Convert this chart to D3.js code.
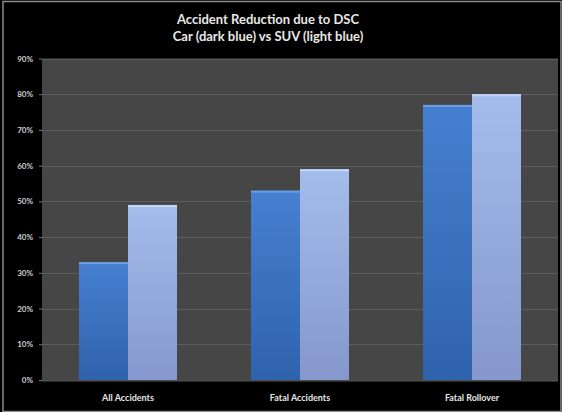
<!DOCTYPE html>
<html>
<head>
<meta charset="utf-8">
<script src="https://cdn.jsdelivr.net/npm/d3@7"></script>
<style>
  html, body { margin: 0; padding: 0; background: #000; }
  svg { display: block; }
</style>
</head>
<body>
<svg id="chart" width="562" height="412"></svg>
<script>
// Accident reduction (%) attributed to DSC, by accident type
const categories = ["All Accidents", "Fatal Accidents", "Fatal Rollover"];
const seriesNames = ["Car", "SUV"];
const carValues = [33, 53, 77];
const suvValues = [49, 59, 80];
const yTicks = [0, 10, 20, 30, 40, 50, 60, 70, 80, 90];
const titleLines = ["Accident Reduction due to DSC", "Car (dark blue) vs SUV (light blue)"];

const W = 562, H = 412;
const plot = { left: 42, right: 558, top: 58.5, bottom: 380 };
const svg = d3.select("#chart");

const defs = svg.append("defs");
function barGradient(id, top, bottom) {
  const g = defs.append("linearGradient").attr("id", id)
    .attr("x1", 0).attr("y1", 0).attr("x2", 0).attr("y2", 1);
  g.append("stop").attr("offset", "0%").attr("stop-color", top);
  g.append("stop").attr("offset", "100%").attr("stop-color", bottom);
}
barGradient("gCar", "#4680d0", "#2f62ad");
barGradient("gSuv", "#a4bdec", "#8597cc");

// outer frame
svg.append("rect").attr("x", 0).attr("y", 0).attr("width", W).attr("height", H).attr("fill", "#000");
svg.append("rect").attr("x", 3).attr("y", 1.5).attr("width", W - 4).attr("height", H - 2)
  .attr("fill", "none").attr("stroke", "#8a8a8a").attr("stroke-width", 1.5);

const x0 = d3.scaleBand().domain(categories).range([plot.left, plot.right]).paddingInner(0).paddingOuter(0);
const groupWidth = 98;
const x1 = d3.scaleBand().domain(seriesNames).range([0, groupWidth]).padding(0);
const y = d3.scaleLinear().domain([0, 90]).range([plot.bottom, plot.top]);

// plot background
svg.append("rect")
  .attr("x", plot.left).attr("y", plot.top)
  .attr("width", plot.right - plot.left).attr("height", plot.bottom - plot.top + 1)
  .attr("fill", "#464646");

// gridlines
svg.append("g")
  .selectAll("line")
  .data(yTicks.filter(d => d > 0))
  .join("line")
  .attr("x1", plot.left).attr("x2", plot.right)
  .attr("y1", d => Math.round(y(d)) + 0.5).attr("y2", d => Math.round(y(d)) + 0.5)
  .attr("stroke", "#5e5e5e").attr("stroke-width", 1);

// y axis labels
const yAxis = d3.axisLeft(y).tickValues(yTicks).tickFormat(d => d + "%").tickSize(3).tickPadding(6);
const yg = svg.append("g").attr("transform", `translate(${plot.left},0)`).call(yAxis);
yg.select(".domain").remove();
yg.selectAll(".tick line").attr("stroke", "#777");
yg.selectAll("text")
  .attr("fill", "#cfcfcf")
  .style("font-family", "Lato, 'Liberation Sans', sans-serif")
  .style("font-weight", "bold")
  .style("font-size", "8px");

// bars
const rows = categories.map((c, i) => ({ cat: c, vals: [
  { s: "Car", v: carValues[i] }, { s: "SUV", v: suvValues[i] }
]}));
const groups = svg.append("g").selectAll("g")
  .data(rows).join("g")
  .attr("transform", d => `translate(${x0(d.cat) + x0.bandwidth() / 2 - groupWidth / 2},0)`);
groups.selectAll("rect.bar")
  .data(d => d.vals).join("rect")
  .attr("class", "bar")
  .attr("x", d => x1(d.s))
  .attr("y", d => y(d.v))
  .attr("width", x1.bandwidth())
  .attr("height", d => y(0) - y(d.v))
  .attr("fill", d => d.s === "Car" ? "url(#gCar)" : "url(#gSuv)");
// light top edge on each bar
groups.selectAll("rect.cap")
  .data(d => d.vals).join("rect")
  .attr("class", "cap")
  .attr("x", d => x1(d.s))
  .attr("y", d => y(d.v))
  .attr("width", x1.bandwidth())
  .attr("height", 2)
  .attr("fill", d => d.s === "Car" ? "#6d9ee0" : "#c4d6f6");

// baseline
svg.append("line")
  .attr("x1", plot.left).attr("x2", plot.right)
  .attr("y1", plot.bottom + 1).attr("y2", plot.bottom + 1)
  .attr("stroke", "#555");

// category labels
const xAxis = d3.axisBottom(x0).tickSize(0).tickPadding(14);
const xg = svg.append("g").attr("transform", `translate(0,${plot.bottom + 1})`).call(xAxis);
xg.select(".domain").remove();
xg.selectAll("text")
  .attr("fill", "#e6e6e6")
  .style("font-family", "Lato, 'Liberation Sans', sans-serif")
  .style("font-weight", "bold")
  .style("font-size", "9px");

// title
svg.append("g").selectAll("text")
  .data(titleLines).join("text")
  .attr("x", 268)
  .attr("y", (d, i) => 24 + i * 17)
  .attr("text-anchor", "middle")
  .attr("fill", "#e8e8e8")
  .style("font-family", "Lato, 'Liberation Sans', sans-serif")
  .style("font-weight", "bold")
  .style("font-size", "13px")
  .text(d => d);
</script>
</body>
</html>
